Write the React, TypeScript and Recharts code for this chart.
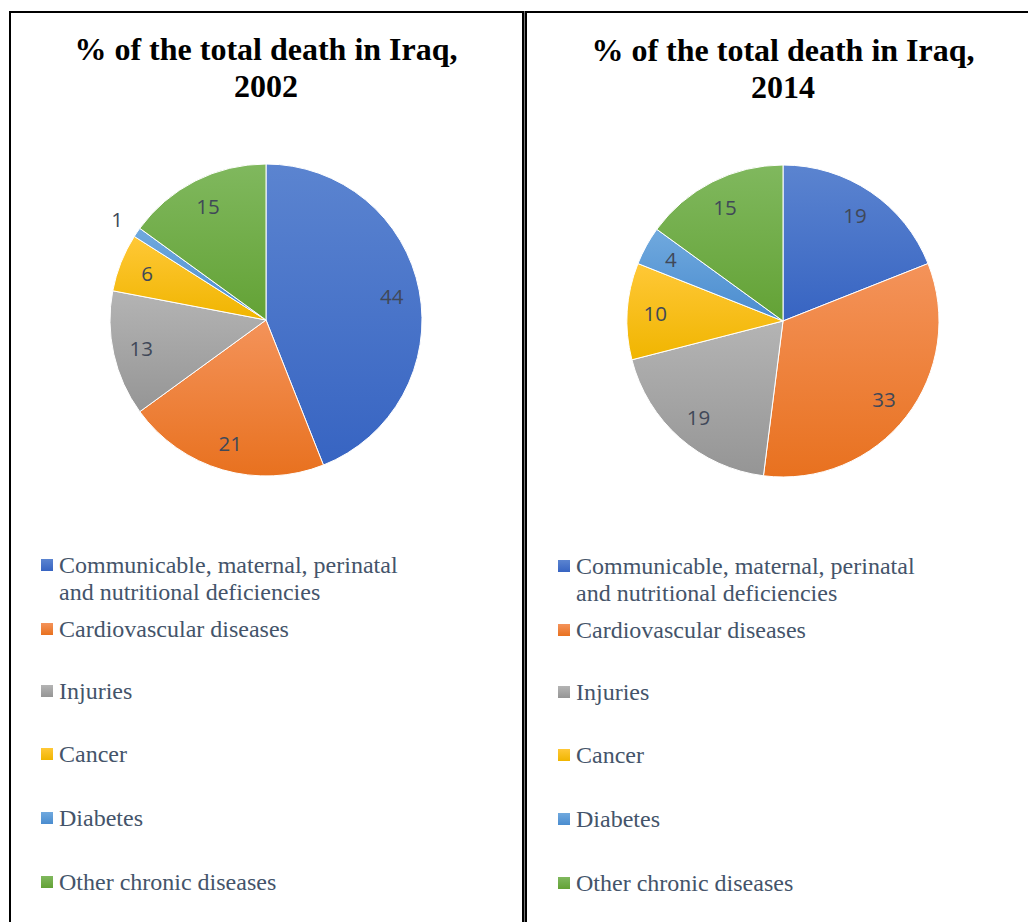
import { PieChart, Pie, Cell } from "recharts";

const categories = [
  "Communicable, maternal, perinatal and nutritional deficiencies",
  "Cardiovascular diseases",
  "Injuries",
  "Cancer",
  "Diabetes",
  "Other chronic diseases",
];
const values2002 = [44, 21, 13, 6, 1, 15];
const values2014 = [19, 33, 19, 10, 4, 15];

// [top, bottom] gradient colours, Office style
const COLORS: [string, string][] = [
  ["#5B84D0", "#3764C2"],
  ["#F4935A", "#E8711F"],
  ["#B4B4B4", "#959595"],
  ["#FFC837", "#F0B500"],
  ["#70A9DE", "#4A8CCF"],
  ["#80B85E", "#63A235"],
];

const LEGEND_TEXT = "#44546A";
const LABEL_TEXT = "#404858";
const RAD = Math.PI / 180;
const legendRows = [565, 629, 691, 754, 818, 882];

function SliceLabel({ cx, cy, midAngle, outerRadius, value }: any) {
  const r = value <= 1 ? outerRadius + 24 : outerRadius * 0.82;
  const x = cx + r * Math.cos(-midAngle * RAD);
  const y = cy + r * Math.sin(-midAngle * RAD);
  return (
    <text
      x={x}
      y={y}
      textAnchor="middle"
      dominantBaseline="central"
      fill={LABEL_TEXT}
      style={{ fontFamily: "'Open Sans', sans-serif", fontSize: 20.5, fill: LABEL_TEXT }}
    >
      {value}
    </text>
  );
}

function Panel({ year, values, left, dy }: { year: string; values: number[]; left: number; dy: number }) {
  const data = categories.map((name, i) => ({ name, value: values[i] }));
  return (
    <>
      <div
        style={{
          position: "absolute",
          left,
          top: 31 + dy * 0.5,
          width: 514,
          textAlign: "center",
          fontFamily: "'Liberation Serif', 'Times New Roman', serif",
          fontWeight: "bold",
          fontSize: 32,
          lineHeight: "37px",
          color: "#000",
        }}
      >
        % of the total death in Iraq,
        <br />
        {year}
      </div>
      <div style={{ position: "absolute", left, top: 120 }}>
        <PieChart width={514} height={380} margin={{ top: 0, right: 0, bottom: 0, left: 0 }}>
          <defs>
            {COLORS.map(([a, b], i) => (
              <linearGradient key={i} id={`g${year}-${i}`} x1="0" y1="0" x2="0" y2="1">
                <stop offset="0%" stopColor={a} />
                <stop offset="100%" stopColor={b} />
              </linearGradient>
            ))}
          </defs>
          <Pie
            data={data}
            dataKey="value"
            nameKey="name"
            cx={257}
            cy={200 + dy}
            outerRadius={156}
            startAngle={90}
            endAngle={-270}
            stroke="#fff"
            strokeWidth={1}
            label={SliceLabel}
            labelLine={false}
            isAnimationActive={false}
          >
            {data.map((d, i) => (
              <Cell key={d.name} fill={`url(#g${year}-${i})`} />
            ))}
          </Pie>
        </PieChart>
      </div>
      {categories.map((name, i) => (
        <div
          key={name}
          style={{
            position: "absolute",
            left: left + 32,
            top: legendRows[i] + dy - 13.5,
            display: "flex",
            alignItems: "flex-start",
            fontFamily: "'Liberation Serif', 'Times New Roman', serif",
            fontSize: 24,
            lineHeight: "27px",
            color: LEGEND_TEXT,
          }}
        >
          <span
            style={{
              display: "inline-block",
              flexShrink: 0,
              width: 12,
              height: 12,
              marginTop: 7,
              marginRight: 6,
              background: `linear-gradient(${COLORS[i][0]}, ${COLORS[i][1]})`,
            }}
          />
          <span style={{ width: 355 }}>{name}</span>
        </div>
      ))}
    </>
  );
}

export default function App() {
  return (
    <div
      style={{
        position: "absolute",
        left: 0,
        top: 0,
        width: 1028,
        height: 922,
        background: "#fff",
        overflow: "hidden",
      }}
    >
      <div style={{ position: "absolute", left: 9, top: 11, width: 1019, height: 2, background: "#000" }} />
      <div style={{ position: "absolute", left: 9, top: 11, width: 2, height: 911, background: "#000" }} />
      <div
        style={{
          position: "absolute",
          left: 522,
          top: 11,
          width: 1,
          height: 911,
          borderLeft: "2px solid #000",
          borderRight: "2px solid #000",
          background: "#777",
        }}
      />
      <Panel year="2002" values={values2002} left={9} dy={0} />
      <Panel year="2014" values={values2014} left={526} dy={1} />
    </div>
  );
}
